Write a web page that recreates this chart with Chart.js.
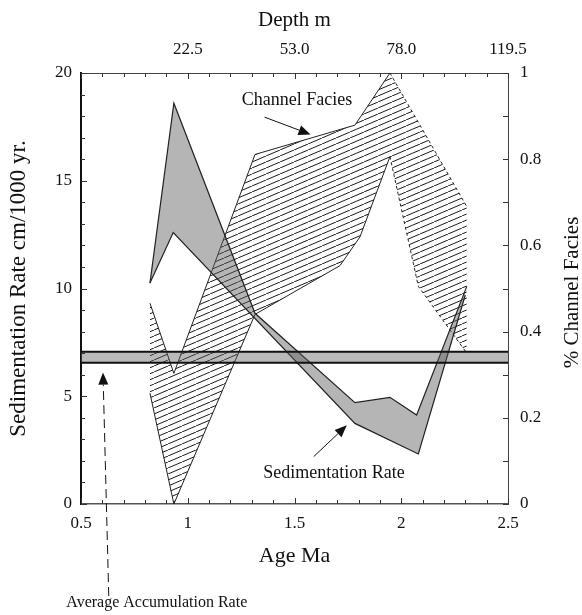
<!DOCTYPE html>
<html>
<head>
<meta charset="utf-8">
<script src="https://cdn.jsdelivr.net/npm/chart.js@4.4.0/dist/chart.umd.min.js"></script>
<style>
  body { margin: 0; background: #fff; }
  #wrap { width: 582px; height: 615px; }
</style>
</head>
<body>
<div id="wrap"><canvas id="chart" width="582" height="615"></canvas></div>
<script>
// Sedimentation rate band, cm/1000 yr (upper and lower edge)
const sedUpperAge = [0.823, 0.935, 1.315, 1.783, 1.947, 2.072, 2.307];
const sedUpper = [10.25, 18.6, 8.85, 4.7, 4.95, 4.13, 10.1];
const sedLowerAge = [0.823, 0.932, 1.783, 2.08, 2.3];
const sedLower = [10.25, 12.6, 3.74, 2.32, 9.7];

// Channel facies band, fraction (right axis)
const facUpperAge = [0.823, 0.935, 1.315, 1.783, 1.947, 2.307];
const facUpper = [0.466, 0.303, 0.811, 0.879, 1.0, 0.69];
const facLowerAge = [0.823, 0.935, 1.315, 1.713, 1.807, 1.947, 2.08, 2.307];
const facLower = [0.257, 0.0, 0.44, 0.553, 0.62, 0.806, 0.505, 0.35];

// Average accumulation rate bar
const avgAge = [0.5, 2.5];
const avgTop = 7.07;
const avgBottom = 6.56;

// Top axis: depth labels at age positions
const depthTickAges = [1, 1.5, 2, 2.5];
const depthLabels = ["22.5", "53.0", "78.0", "119.5"];

const serif = "'Liberation Serif', 'Times New Roman', serif";

function makeHatch() {
  const c = document.createElement("canvas");
  c.width = 14;
  c.height = 6;
  const g = c.getContext("2d");
  g.strokeStyle = "#1a1a1a";
  g.lineWidth = 1;
  for (const dx of [-14, 0, 14]) {
    g.beginPath();
    g.moveTo(dx, 6);
    g.lineTo(dx + 14, 0);
    g.stroke();
  }
  return g.createPattern(c, "repeat");
}

function pts(xs, ys) {
  return xs.map((x, i) => ({ x: x, y: ys[i] }));
}

// dotted outline on the right part of the facies band
const facDash = (c) => (c.p0.parsed.x >= 1.94 ? [3, 3] : undefined);

function arrow(ctx, x1, y1, x2, y2, dashed) {
  const a = Math.atan2(y2 - y1, x2 - x1);
  const len = 12, w = 5;
  ctx.save();
  ctx.strokeStyle = "#111";
  ctx.fillStyle = "#111";
  ctx.lineWidth = 1;
  if (dashed) ctx.setLineDash([9, 5]);
  ctx.beginPath();
  ctx.moveTo(x1, y1);
  ctx.lineTo(x2 - len * Math.cos(a), y2 - len * Math.sin(a));
  ctx.stroke();
  ctx.setLineDash([]);
  ctx.beginPath();
  ctx.moveTo(x2, y2);
  ctx.lineTo(x2 - len * Math.cos(a) + w * Math.sin(a), y2 - len * Math.sin(a) - w * Math.cos(a));
  ctx.lineTo(x2 - len * Math.cos(a) - w * Math.sin(a), y2 - len * Math.sin(a) + w * Math.cos(a));
  ctx.closePath();
  ctx.fill();
  ctx.restore();
}

const decorPlugin = {
  id: "decor",
  afterDraw(chart) {
    const { ctx, chartArea: ca } = chart;
    const x = chart.scales.x;
    const y = chart.scales.y;
    const y2 = chart.scales.y2;

    // inward minor ticks
    ctx.save();
    ctx.strokeStyle = "#333";
    ctx.lineWidth = 1;
    ctx.beginPath();
    for (let v = 0.5; v <= 2.501; v += 0.1) {
      const px = Math.round(x.getPixelForValue(v)) + 0.5;
      const big = Math.abs(v * 2 - Math.round(v * 2)) < 0.01 ? 6 : 4;
      ctx.moveTo(px, ca.bottom);
      ctx.lineTo(px, ca.bottom - big);
      ctx.moveTo(px, ca.top);
      ctx.lineTo(px, ca.top + big);
    }
    for (let v = 0; v <= 20; v += 1) {
      const py = Math.round(y.getPixelForValue(v)) + 0.5;
      ctx.moveTo(ca.left, py);
      ctx.lineTo(ca.left + (v % 5 === 0 ? 6 : 4), py);
    }
    for (let v = 0; v <= 1.001; v += 0.1) {
      const py = Math.round(y2.getPixelForValue(v)) + 0.5;
      ctx.moveTo(ca.right, py);
      ctx.lineTo(ca.right - 5, py);
    }
    ctx.stroke();
    ctx.restore();

    // right axis title, reading upwards
    ctx.save();
    ctx.fillStyle = "#111";
    ctx.font = "21px " + serif;
    ctx.textAlign = "center";
    ctx.textBaseline = "middle";
    ctx.translate(572, (ca.top + ca.bottom) / 2 + 4);
    ctx.rotate(-Math.PI / 2);
    ctx.fillText("% Channel Facies", 0, 0);
    ctx.restore();

    // annotations
    ctx.save();
    ctx.fillStyle = "#111";
    ctx.font = "18px " + serif;
    ctx.textAlign = "center";
    ctx.textBaseline = "middle";
    ctx.fillText("Channel Facies", x.getPixelForValue(1.512), y.getPixelForValue(18.75));
    arrow(ctx, x.getPixelForValue(1.36), y.getPixelForValue(17.95),
      x.getPixelForValue(1.575), y.getPixelForValue(17.15));
    ctx.fillText("Sedimentation Rate", x.getPixelForValue(1.685), y.getPixelForValue(1.44));
    arrow(ctx, x.getPixelForValue(1.59), y.getPixelForValue(2.2),
      x.getPixelForValue(1.745), y.getPixelForValue(3.65));
    arrow(ctx, x.getPixelForValue(0.63), 596,
      x.getPixelForValue(0.603), y.getPixelForValue(6.1), true);
    ctx.font = "16px " + serif;
    ctx.fillText("Average Accumulation Rate", x.getPixelForValue(0.855), 603);
    ctx.restore();
  },
};

const ctx = document.getElementById("chart").getContext("2d");
const hatch = makeHatch();

new Chart(ctx, {
  type: "line",
  data: {
    datasets: [
      {
        data: pts(avgAge, avgAge.map(() => avgTop)),
        yAxisID: "y",
        borderColor: "#111",
        borderWidth: 2,
        pointRadius: 0,
        fill: false,
        order: 1,
      },
      {
        data: pts(avgAge, avgAge.map(() => avgBottom)),
        yAxisID: "y",
        borderColor: "#111",
        borderWidth: 2,
        pointRadius: 0,
        backgroundColor: "rgba(90,90,90,0.42)",
        fill: "-1",
        order: 1,
      },
      {
        data: pts(sedUpperAge, sedUpper),
        yAxisID: "y",
        borderColor: "#222",
        borderWidth: 1.2,
        pointRadius: 0,
        fill: false,
        order: 2,
      },
      {
        data: pts(sedLowerAge, sedLower),
        yAxisID: "y",
        borderColor: "#222",
        borderWidth: 1.2,
        pointRadius: 0,
        backgroundColor: "rgba(90,90,90,0.45)",
        fill: "-1",
        order: 2,
      },
      {
        data: pts(facUpperAge, facUpper),
        yAxisID: "y2",
        borderColor: "#222",
        borderWidth: 1,
        pointRadius: 0,
        fill: false,
        segment: { borderDash: facDash },
        order: 3,
      },
      {
        data: pts(facLowerAge, facLower),
        yAxisID: "y2",
        borderColor: "#222",
        borderWidth: 1,
        pointRadius: 0,
        backgroundColor: hatch,
        fill: "-1",
        segment: { borderDash: facDash },
        order: 3,
      },
    ],
  },
  options: {
    responsive: false,
    animation: false,
    layout: { padding: 0 },
    plugins: {
      legend: { display: false },
      tooltip: { enabled: false },
    },
    elements: { line: { tension: 0 } },
    scales: {
      x: {
        type: "linear",
        position: "bottom",
        min: 0.5,
        max: 2.5,
        afterFit: (s) => { s.height = 111; },
        grid: { drawOnChartArea: false, drawTicks: false },
        border: { color: "#555", width: 1.5 },
        ticks: {
          stepSize: 0.5,
          padding: 9,
          color: "#111",
          font: { family: serif, size: 17 },
          callback: (v) => String(v),
        },
        title: {
          display: true,
          text: "Age Ma",
          color: "#111",
          font: { family: serif, size: 22 },
          padding: { top: 0, bottom: 46 },
        },
      },
      xTop: {
        type: "linear",
        position: "top",
        min: 0.5,
        max: 2.5,
        afterFit: (s) => { s.height = 73; },
        afterBuildTicks: (s) => { s.ticks = depthTickAges.map((v) => ({ value: v })); },
        grid: { drawOnChartArea: false, drawTicks: false },
        border: { color: "#444", width: 1 },
        ticks: {
          padding: 13,
          color: "#111",
          font: { family: serif, size: 17 },
          callback: (v, i) => depthLabels[i],
        },
        title: {
          display: true,
          text: "Depth m",
          color: "#111",
          font: { family: serif, size: 21 },
          padding: { top: 8, bottom: 0 },
        },
      },
      y: {
        type: "linear",
        position: "left",
        min: 0,
        max: 20,
        afterFit: (s) => { s.width = 81; },
        grid: { drawOnChartArea: false, drawTicks: false },
        border: { color: "#111", width: 2 },
        ticks: {
          stepSize: 5,
          padding: 9,
          color: "#111",
          font: { family: serif, size: 17 },
        },
        title: {
          display: true,
          text: "Sedimentation Rate cm/1000 yr.",
          color: "#111",
          font: { family: serif, size: 23 },
          padding: { top: 5, bottom: 0 },
        },
      },
      y2: {
        type: "linear",
        position: "right",
        min: 0,
        max: 1,
        afterFit: (s) => { s.width = 74; },
        grid: { drawOnChartArea: false, drawTicks: false },
        border: { color: "#444", width: 1 },
        ticks: {
          stepSize: 0.2,
          padding: 12,
          color: "#111",
          font: { family: serif, size: 17 },
          callback: (v) => String(Number(v.toFixed(1))),
        },
      },
    },
  },
  plugins: [decorPlugin],
});
</script>
</body>
</html>
